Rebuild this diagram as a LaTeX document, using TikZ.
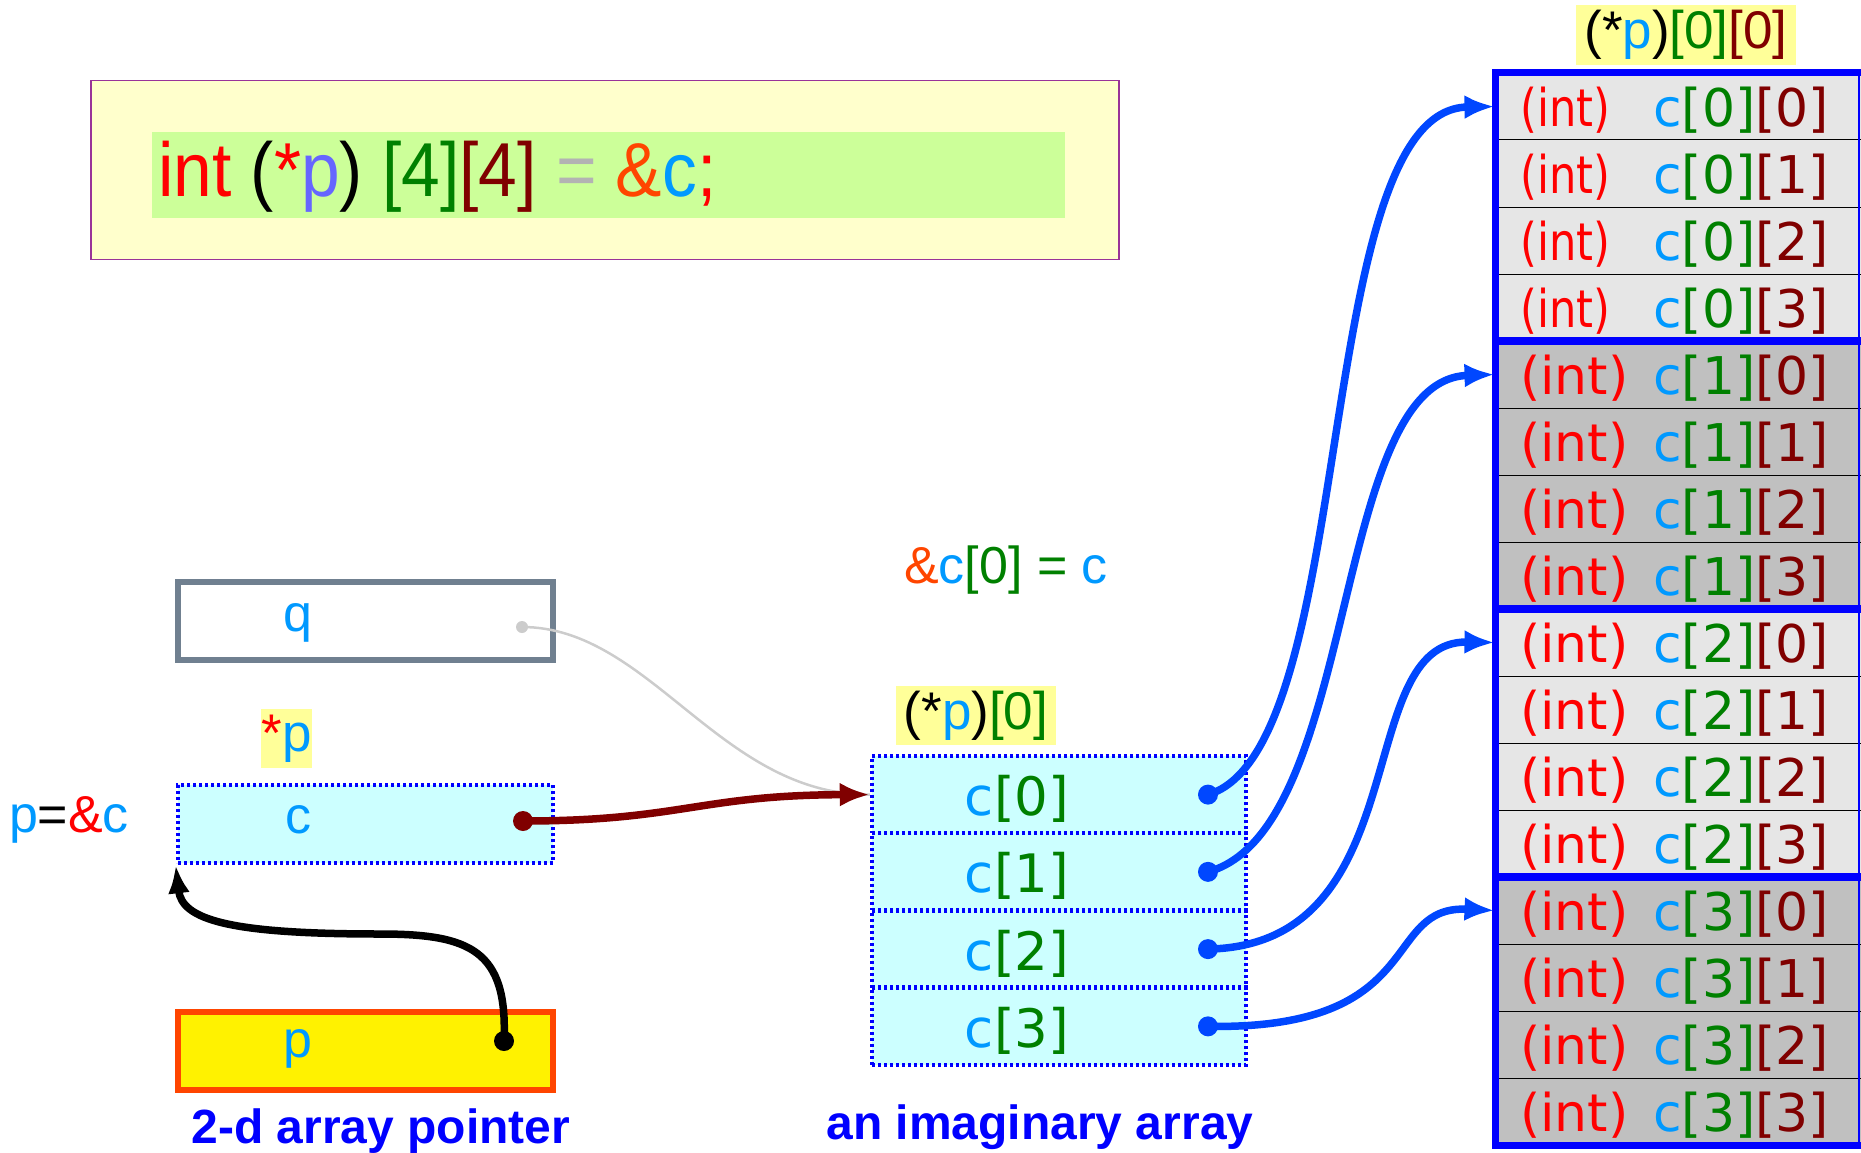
\documentclass[tikz,border=0pt]{standalone}
\usepackage{fontspec}
\setmainfont{Liberation Sans}
\newfontfamily\dejavu{DejaVu Sans}
\usepackage{graphicx}
\usetikzlibrary{arrows.meta}

\definecolor{cred}{HTML}{FF0000}
\definecolor{cgrn}{HTML}{008000}
\definecolor{cdrk}{HTML}{800000}
\definecolor{csky}{HTML}{0099FF}
\definecolor{corg}{HTML}{FF4500}
\definecolor{cperi}{HTML}{6666FF}
\definecolor{cgry}{HTML}{B3B3B3}
\definecolor{cblu}{HTML}{0047FF}
\definecolor{cbox}{HTML}{0000FF}
\definecolor{clgray}{HTML}{E6E6E6}
\definecolor{cdgray}{HTML}{C0C0C0}
\definecolor{ccyan}{HTML}{CCFFFF}
\definecolor{cyel}{HTML}{FFFFCC}
\definecolor{chl}{HTML}{FFFF99}
\definecolor{clime}{HTML}{CCFF99}
\definecolor{cslate}{HTML}{708090}
\definecolor{cpurp}{HTML}{993399}

\newcommand{\tRed}[1]{\textcolor{cred}{#1}}
\newcommand{\tGrn}[1]{\textcolor{cgrn}{#1}}
\newcommand{\tDrk}[1]{\textcolor{cdrk}{#1}}
\newcommand{\tSky}[1]{\textcolor{csky}{#1}}
\newcommand{\tOrg}[1]{\textcolor{corg}{#1}}

\tikzset{
  >=Latex,
  txt/.style={inner sep=0pt, font=\fontsize{52}{60}\selectfont},
  dvu/.style={inner sep=0pt, font=\dejavu\fontsize{52}{60}\selectfont},
  hl/.style={fill=chl, inner sep=0pt, font=\fontsize{53}{60}\selectfont},
  botlbl/.style={inner sep=0pt, text=cbox, font=\bfseries\fontsize{48}{56}\selectfont},
  var/.style={line width=6pt, minimum width=375pt, minimum height=78pt, inner sep=0pt},
  dotbox/.style={draw=cbox, line width=4.5pt, dash pattern=on 3pt off 3pt},
  mcell/.style={dotbox, fill=ccyan, minimum width=374pt, minimum height=77.25pt, inner sep=0pt},
  cell/.style={draw=black, line width=1pt, minimum width=370pt, minimum height=67pt, inner sep=0pt},
  wall/.style={draw=cbox, line width=7pt},
  blu/.style={draw=cblu, line width=7.5pt, -{Latex[length=30pt,width=24pt]}},
}

\begin{document}
\begin{tikzpicture}[x=1pt,y=-1pt]
\useasboundingbox (0,0) rectangle (1861,1153);
% declaration
\node[draw=cpurp, fill=cyel, line width=1.5pt, minimum width=1028pt, minimum height=179pt] (code) at (605,170) {};
\node[fill=clime, minimum width=913pt, minimum height=86pt] (codehl) at (608.5,175) {};
\node[inner sep=0pt, anchor=west, font=\fontsize{69.5}{80}\selectfont] (decl) at (158,177)
  {\scalebox{1}[1.1]{\tRed{int} (\tRed{*}\textcolor{cperi}{p}) \tGrn{[4]}\tDrk{[4]} \textcolor{cgry}{=} \tOrg{\&}\tSky{c}\tRed{;}}};
% left side variables
\node[var, draw=cslate] (q) at (365.5,621) {};
\node[txt, text=csky] (qname) at (298,623) {q};
\coordinate (qdot) at (522,627);
\node[hl, minimum width=51pt, minimum height=59pt] (deref) at (286.5,738.5) {\raisebox{-4pt}{\tRed{*}\tSky{p}}};
\node[var, dotbox, fill=ccyan] (c) at (365.5,824) {};
\node[txt, text=csky] (cname) at (298,820) {c};
\coordinate (cdot) at (523,821);
\node[txt] (assign) at (69,820) {\tSky{p}=\tRed{\&}\tSky{c}};
\node[var, draw=corg, fill=yellow] (p) at (365.5,1050.5) {};
\node[txt, text=csky] (pname) at (298,1049) {p};
\coordinate (pdot) at (504,1041);
\node[botlbl] (lblp) at (381,1131) {2-d array pointer};
% imaginary array c[0..3]
\node[txt] (addr) at (1006,570) {\tOrg{\&}\tSky{c}\tGrn{[0] =} \tSky{c}};
\node[hl, minimum width=160pt, minimum height=59pt] (prow) at (976,715.5) {(*\tSky{p})\tGrn{[0]}};
\foreach \i in {0,...,3}{
  \node[mcell] (m\i) at (1059,{794.6+77.25*\i}) {};
  \node[dvu, font=\dejavu\fontsize{53}{60}\selectfont] (mt\i) at (1017,{799+77.25*\i}) {\tSky{c}\tGrn{[\i]}};
  \coordinate (md\i) at (1208,{794.6+77.25*\i});
}
\node[botlbl] (lblm) at (1040,1127) {an imaginary array};
% real array c[4][4]
\node[hl, minimum width=220pt, minimum height=60pt] (pzz) at (1686,35) {(*\tSky{p})\tGrn{[0]}\tDrk{[0]}};
\foreach \g/\f in {0/clgray,1/cdgray,2/clgray,3/cdgray}{
  \foreach \r in {0,...,3}{
    \node[cell, fill=\f] (r\g\r) at (1680,{106.5+268*\g+67*\r}) {};
    \node[dvu, anchor=west] (i\g\r) at (1520,{110+268*\g+67*\r})
      {\ifnum\g=0 \scalebox{0.83}[1]{\tRed{(int)}}\else\tRed{(int)}\fi};
    \node[dvu, anchor=west] (e\g\r) at (1653,{110+268*\g+67*\r}) {\tSky{c}\tGrn{[\g]}\tDrk{[\r]}};
  }
}
\draw[wall] (1495,73) -- (1870,73);
\foreach \y in {341,609,877}
  \draw[wall, line width=8pt] (1495,\y) -- (1870,\y);
\draw[wall] (1495,1145) -- (1870,1145);
\draw[wall] (1495,69.5) -- (1495,1148.5);
\draw[draw=cbox, line width=1.5pt] (1859,73) -- (1859,1145);
% pointers
\draw[draw=black!20, line width=2.5pt] (qdot) .. controls (650,627) and (720,795) .. (m0.west);
\fill[black!20] (qdot) circle (6pt);
\draw[draw=cdrk, line width=7.5pt, -{Latex[length=30pt,width=24pt]}] (cdot) .. controls (680,821) and (700,795) .. (m0.west);
\fill[cdrk] (cdot) circle (10pt);
\draw[line width=7.5pt, -{Latex[length=28pt,width=22pt]}] (pdot) .. controls (508,950) and (470,934) .. (380,934)
  .. controls (230,934) and (182,920) .. (c.south west);
\fill (pdot) circle (10pt);
\draw[blu] (md0) .. controls (1360,750) and (1310,110) .. (r00.west);
\draw[blu] (md1) .. controls (1360,830) and (1330,380) .. (r10.west);
\draw[blu] (md2) .. controls (1420,945) and (1350,640) .. (r20.west);
\draw[blu] (md3) .. controls (1430,1030) and (1380,905) .. (r30.west);
\foreach \i in {0,...,3}
  \fill[cblu] (md\i) circle (10pt);
\end{tikzpicture}
\end{document}
